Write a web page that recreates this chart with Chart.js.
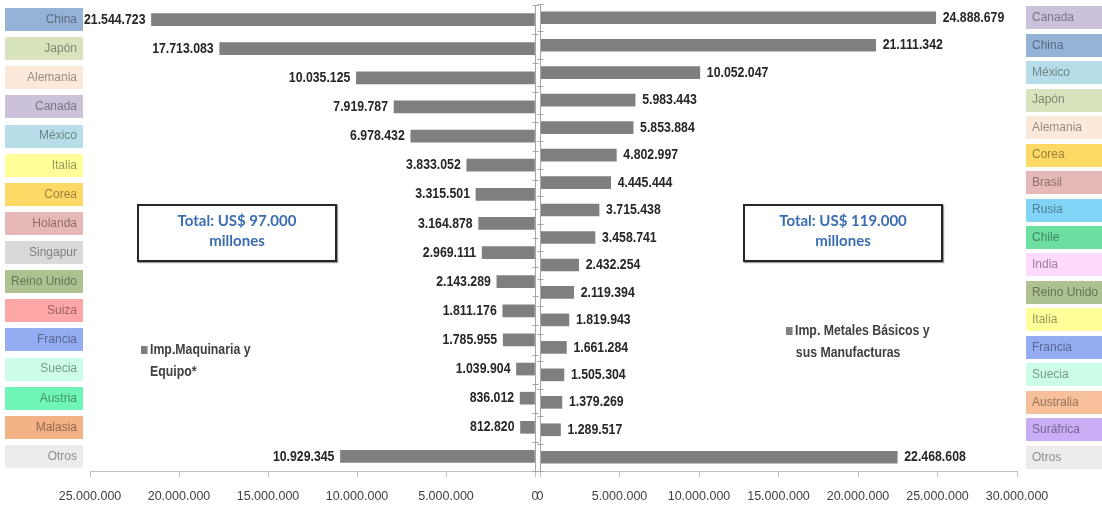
<!DOCTYPE html>
<html lang="es">
<head>
<meta charset="utf-8">
<title>Importaciones por país de origen</title>
<script src="https://cdn.jsdelivr.net/npm/chart.js@4.4.1/dist/chart.umd.min.js"></script>
<style>
  html, body { margin: 0; padding: 0; background: #fff; }
  #wrap { position: relative; width: 1102px; height: 506px; overflow: hidden; }
  canvas { position: absolute; top: 0; }
  #izq { left: 0; }
  #der { left: 534px; }
  .total {
    position: absolute; top: 204px; width: 196px; height: 50px;
    border: 2px solid #262626; box-shadow: 1px 1px 1px #999;
    font: bold 15px Lato, 'Open Sans', sans-serif; color: #3b6db3;
    text-align: center; line-height: 20px; padding-top: 4px; background: #fff;
  }
  .leyenda {
    position: absolute; font: bold 15px 'Liberation Sans', Arial, sans-serif;
    color: #404040; line-height: 22px; white-space: nowrap;
    transform: scaleX(0.82); transform-origin: left top;
  }
  .leyenda i {
    display: inline-block; width: 8px; height: 8px; background: #7f7f7f; margin-right: 3px;
  }
</style>
</head>
<body>
<div id="wrap">
  <canvas id="izq" width="540" height="506"></canvas>
  <canvas id="der" width="568" height="506"></canvas>
  <div class="total" id="totalIzq" style="left:137px"></div>
  <div class="total" id="totalDer" style="left:743px"></div>
  <div class="leyenda" id="leyIzq" style="left:141px; top:338px"></div>
  <div class="leyenda" id="leyDer" style="left:786px; top:319px"></div>
</div>
<script>
// Importaciones de maquinaria y equipo, por país de origen
const paisesMaquinaria = ['China', 'Japón', 'Alemania', 'Canada', 'México', 'Italia', 'Corea', 'Holanda',
  'Singapur', 'Reino Unido', 'Suiza', 'Francia', 'Suecia', 'Austria', 'Malasia', 'Otros'];
const valoresMaquinaria = [21544723, 17713083, 10035125, 7919787, 6978432, 3833052, 3315501, 3164878,
  2969111, 2143289, 1811176, 1785955, 1039904, 836012, 812820, 10929345];

// Importaciones de metales básicos y sus manufacturas
const paisesMetales = ['Canada', 'China', 'México', 'Japón', 'Alemania', 'Corea', 'Brasil', 'Rusia', 'Chile',
  'India', 'Reino Unido', 'Italia', 'Francia', 'Suecia', 'Australia', 'Suráfrica', 'Otros'];
const valoresMetales = [24888679, 21111342, 10052047, 5983443, 5853884, 4802997, 4445444, 3715438, 3458741,
  2432254, 2119394, 1819943, 1661284, 1505304, 1379269, 1289517, 22468608];

// marcas del eje horizontal
const ticksMaquinaria = [0, 5000000, 10000000, 15000000, 20000000, 25000000];
const ticksMetales = [0, 5000000, 10000000, 15000000, 20000000, 25000000, 30000000];

const serieMaquinaria = 'Imp.Maquinaria y Equipo*';
const serieMetales = 'Imp. Metales Básicos y sus Manufacturas';
const totalMaquinaria = 'Total: US$ 97.000 millones';
const totalMetales = 'Total: US$ 119.000 millones';

// colores de las cajas de cada país
const colorPais = {
  'China': '#95b3d7', 'Japón': '#d7e4bd', 'Alemania': '#fde9d9', 'Canada': '#ccc1da',
  'México': '#b7dde8', 'Italia': '#ffff99', 'Corea': '#ffd966', 'Holanda': '#e6b9b8',
  'Singapur': '#d9d9d9', 'Reino Unido': '#adc290', 'Suiza': '#ffa6a6', 'Francia': '#94acf2',
  'Suecia': '#ccfde8', 'Austria': '#70f5b8', 'Malasia': '#f2b285', 'Otros': '#ececec',
  'Brasil': '#e6b9b8', 'Rusia': '#80d4f5', 'Chile': '#6cdfa0', 'India': '#ffd9fe',
  'Australia': '#f8c09a', 'Suráfrica': '#c9adf5'
};

const FUENTE = "'Liberation Sans', Arial, sans-serif";
const GRIS_BARRA = '#7f7f7f';
const GRIS_EJE = '#bfbfbf';

function formato(v) {
  return String(Math.round(v)).replace(/\B(?=(\d{3})+(?!\d))/g, '.');
}

// texto del país en un tono más oscuro que su caja
function oscurecer(hex, f) {
  const n = parseInt(hex.slice(1), 16);
  const r = Math.round(((n >> 16) & 255) * f);
  const g = Math.round(((n >> 8) & 255) * f);
  const b = Math.round((n & 255) * f);
  return `rgb(${r},${g},${b})`;
}

// cajas de color detrás de los nombres de país
const cajasPaises = {
  id: 'cajasPaises',
  beforeDraw(chart, args, opts) {
    const y = chart.scales.y;
    const ctx = chart.ctx;
    ctx.save();
    chart.data.labels.forEach((pais, i) => {
      const py = y.getPixelForTick(i);
      ctx.fillStyle = colorPais[pais];
      ctx.fillRect(opts.x, Math.round(py - 11.5), opts.w, 23);
    });
    ctx.restore();
  }
};

// línea vertical en el cero con sus pequeñas marcas
const lineaCero = {
  id: 'lineaCero',
  afterDatasetsDraw(chart) {
    const x0 = Math.round(chart.scales.x.getPixelForValue(0)) + 0.5;
    const area = chart.chartArea;
    const ctx = chart.ctx;
    ctx.save();
    ctx.strokeStyle = '#a6a6a6';
    ctx.lineWidth = 1;
    ctx.beginPath();
    ctx.moveTo(x0, area.top);
    ctx.lineTo(x0, area.bottom);
    const n = chart.data.labels.length;
    const paso = (area.bottom - area.top) / n;
    for (let i = 0; i <= n; i++) {
      const py = Math.round(area.top + i * paso) + 0.5;
      ctx.moveTo(x0 - 3, py);
      ctx.lineTo(x0 + 3, py);
    }
    ctx.stroke();
    ctx.restore();
  }
};

// valor de cada barra junto a su extremo, en letra estrecha
const etiquetasValor = {
  id: 'etiquetasValor',
  afterDatasetsDraw(chart, args, opts) {
    const ctx = chart.ctx;
    const meta = chart.getDatasetMeta(0);
    const datos = chart.data.datasets[0].data;
    ctx.save();
    ctx.font = 'bold 15px ' + FUENTE;
    ctx.fillStyle = '#262626';
    ctx.textBaseline = 'middle';
    ctx.textAlign = opts.lado === 'izq' ? 'right' : 'left';
    meta.data.forEach((barra, i) => {
      const x = opts.lado === 'izq' ? barra.x - 6 : barra.x + 7;
      ctx.save();
      ctx.translate(x, barra.y);
      ctx.scale(0.82, 1);
      ctx.fillText(formato(datos[i]), 0, 0);
      ctx.restore();
    });
    ctx.restore();
  }
};

function sinRelleno(s) {
  s.paddingLeft = 0;
  s.paddingRight = 0;
  s.paddingTop = 0;
  s.paddingBottom = 0;
}

function opcionesEje(marcas, invertido) {
  return {
    reverse: invertido,
    min: marcas[0],
    max: marcas[marcas.length - 1],
    ticks: {
      stepSize: marcas[1] - marcas[0],
      callback: v => formato(v),
      color: '#404040',
      font: { family: FUENTE, size: 12.5 },
      padding: 12,
      maxRotation: 0,
      autoSkip: false
    },
    grid: { drawOnChartArea: false, color: GRIS_EJE, tickLength: 6 },
    border: { color: GRIS_EJE },
    afterFit: s => { s.height = 35; sinRelleno(s); }
  };
}

function opcionesPaises(lado, ancho, relleno) {
  return {
    position: lado,
    grid: { display: false, drawTicks: false },
    border: { display: false },
    ticks: {
      padding: relleno,
      autoSkip: false,
      color: c => oscurecer(colorPais[c.chart.data.labels[c.index]], 0.6),
      font: { family: FUENTE, size: 12 }
    },
    afterFit: s => { s.width = ancho; sinRelleno(s); }
  };
}

new Chart(document.getElementById('izq'), {
  type: 'bar',
  data: {
    labels: paisesMaquinaria,
    datasets: [{ label: serieMaquinaria, data: valoresMaquinaria, backgroundColor: GRIS_BARRA, barThickness: 12 }]
  },
  options: {
    indexAxis: 'y',
    responsive: false,
    animation: false,
    layout: { padding: { top: 5, right: 5, left: 0, bottom: 0 } },
    scales: {
      x: opcionesEje(ticksMaquinaria, true),
      y: opcionesPaises('left', 90, 13)
    },
    plugins: {
      legend: { display: false },
      tooltip: { enabled: false },
      cajasPaises: { x: 5, w: 78 },
      etiquetasValor: { lado: 'izq' }
    }
  },
  plugins: [cajasPaises, lineaCero, etiquetasValor]
});

new Chart(document.getElementById('der'), {
  type: 'bar',
  data: {
    labels: paisesMetales,
    datasets: [{ label: serieMetales, data: valoresMetales, backgroundColor: GRIS_BARRA, barThickness: 12 }]
  },
  options: {
    indexAxis: 'y',
    responsive: false,
    animation: false,
    layout: { padding: { top: 4, right: 0, left: 6, bottom: 0 } },
    scales: {
      x: opcionesEje(ticksMetales, false),
      y: opcionesPaises('right', 85, 15)
    },
    plugins: {
      legend: { display: false },
      tooltip: { enabled: false },
      cajasPaises: { x: 492, w: 76 },
      etiquetasValor: { lado: 'der' }
    }
  },
  plugins: [cajasPaises, lineaCero, etiquetasValor]
});

// recuadros de totales y leyendas
function partirTexto(texto, corte) {
  const i = texto.indexOf(corte) + corte.length;
  return [texto.slice(0, i), texto.slice(i).trim()];
}
const [t1, t2] = partirTexto(totalMaquinaria, '97.000');
document.getElementById('totalIzq').innerHTML = `${t1}<br>${t2}`;
const [t3, t4] = partirTexto(totalMetales, '119.000');
document.getElementById('totalDer').innerHTML = `${t3}<br>${t4}`;

const [l1, l2] = partirTexto(serieMaquinaria, ' y');
document.getElementById('leyIzq').innerHTML = `<i></i>${l1}<br><span style="margin-left:11px">${l2}</span>`;
const [l3, l4] = partirTexto(serieMetales, ' y');
document.getElementById('leyDer').innerHTML = `<i></i>${l3}<br><span style="margin-left:12px">${l4}</span>`;
</script>
</body>
</html>
